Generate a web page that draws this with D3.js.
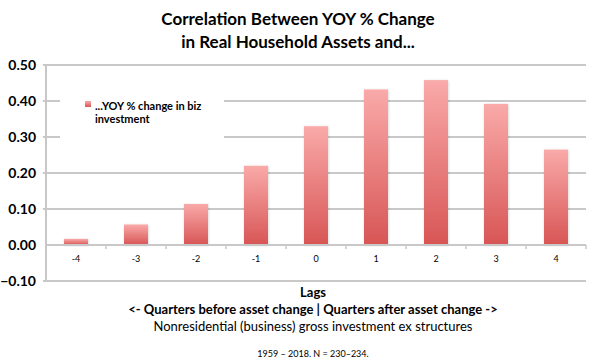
<!DOCTYPE html>
<html><head><meta charset="utf-8">
<script src="https://cdn.jsdelivr.net/npm/d3@7"></script>
<style>body{margin:0;background:#fff}svg{display:block}text{font-family:Lato,"Open Sans",sans-serif}</style>
</head><body><svg id="c" width="594" height="360"></svg>
<script>
const categories = ["-4","-3","-2","-1","0","1","2","3","4"];
const values = [0.017, 0.057, 0.114, 0.220, 0.330, 0.432, 0.458, 0.392, 0.265];
const yTicks = [-0.10, 0.00, 0.10, 0.20, 0.30, 0.40, 0.50];
const seriesName = ["...YOY % change in biz", "investment"];
const titleLines = ["Correlation Between YOY % Change", "in Real Household Assets and..."];
const xTitleLines = ["Lags", "<-  Quarters before asset change | Quarters after asset change ->"];
const subTitle = "Nonresidential (business) gross investment ex structures";
const footnote = "1959 \u2013 2018. N = 230\u2013234.";

const svg = d3.select("#c");
const L = 46, R = 586, T = 65, B = 281;
const x = d3.scaleBand().domain(categories).range([L, R]).paddingInner(0.6).paddingOuter(0.3);
const xb = d3.scaleBand().domain(categories).range([L, R]);
const y = d3.scaleLinear().domain([-0.10, 0.50]).range([B, T]);

const defs = svg.append("defs");
const g = defs.append("linearGradient").attr("id","bg").attr("x1",0).attr("y1",0).attr("x2",0).attr("y2",1);
g.append("stop").attr("offset","0%").attr("stop-color","#f9aaa9");
g.append("stop").attr("offset","100%").attr("stop-color","#d8555556".slice(0,7));
const f = defs.append("filter").attr("id","sh").attr("x","-20%").attr("y","-20%").attr("width","140%").attr("height","140%");
f.append("feDropShadow").attr("dx",0.5).attr("dy",0.5).attr("stdDeviation",0.8).attr("flood-color","#000").attr("flood-opacity",0.18);

// gridlines
svg.append("g").selectAll("line").data(yTicks.filter(d => d !== 0)).join("line")
  .attr("x1", L-3).attr("x2", R).attr("y1", d => y(d)).attr("y2", d => y(d))
  .attr("stroke", "#c8c8c8").attr("stroke-width", 2);

// y axis
const yAxis = d3.axisLeft(y).tickValues(yTicks).tickFormat(d3.format(".2f")).tickSize(0).tickPadding(10);
const ya = svg.append("g").attr("transform", `translate(${L},0)`).call(yAxis);
ya.select(".domain").remove();
ya.selectAll("text").attr("font-size", 14).attr("font-weight", "bold").attr("fill", "#000");
svg.append("line").attr("x1", L).attr("x2", L).attr("y1", T).attr("y2", B).attr("stroke", "#c8c8c8").attr("stroke-width", 2);

// bars
svg.append("g").selectAll("rect").data(values).join("rect")
  .attr("x", (d,i) => x(categories[i])).attr("width", x.bandwidth())
  .attr("y", d => y(Math.max(0,d))).attr("height", d => Math.abs(y(d) - y(0)))
  .attr("fill", "url(#bg)").attr("filter", "url(#sh)");

// zero axis with ticks at band boundaries
const xAxis = d3.axisBottom(xb).tickSize(0).tickPadding(11);
const xa = svg.append("g").attr("transform", `translate(0,${y(0)})`).call(xAxis);
xa.select(".domain").attr("stroke", "#c8c8c8").attr("stroke-width", 2).attr("d", `M${L},0H${R}`);
xa.selectAll("text").attr("font-size", 9).attr("fill", "#000");
svg.append("g").selectAll("line").data(categories.slice(1).concat(["end"])).join("line")
  .attr("x1", (d,i) => L + (i+1)*xb.step()).attr("x2", (d,i) => L + (i+1)*xb.step())
  .attr("y1", y(0)).attr("y2", y(0)+4).attr("stroke", "#c8c8c8").attr("stroke-width", 1.5);

// legend
svg.append("rect").attr("x", 60).attr("y", 93).attr("width", 164).attr("height", 50).attr("fill", "#fff");
svg.append("rect").attr("x", 85).attr("y", 101).attr("width", 6).attr("height", 6).attr("fill", "url(#bg)");
svg.append("g").selectAll("text").data(seriesName).join("text")
  .attr("x", 95).attr("y", (d,i) => 110 + i*13).attr("font-size", 11).attr("font-weight", "bold").text(d => d);

// titles
svg.append("g").selectAll("text").data(titleLines).join("text")
  .attr("x", 298).attr("y", (d,i) => 25 + i*23).attr("text-anchor", "middle")
  .attr("font-size", 17).attr("font-weight", "bold").text(d => d);
svg.append("g").selectAll("text").data(xTitleLines).join("text")
  .attr("x", 313).attr("y", (d,i) => 297 + i*17).attr("text-anchor", "middle")
  .attr("font-size", 13).attr("font-weight", "bold").text(d => d);
svg.append("text").attr("x", 313).attr("y", 331).attr("text-anchor", "middle").attr("font-size", 13).text(subTitle);
svg.append("text").attr("x", 313).attr("y", 357).attr("text-anchor", "middle").attr("font-size", 9).text(footnote);
</script></body></html>
